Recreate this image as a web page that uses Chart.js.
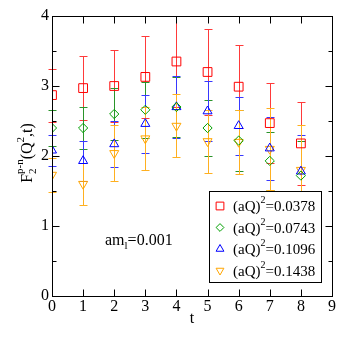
<!DOCTYPE html>
<html><head><meta charset="utf-8">
<script src="https://cdn.jsdelivr.net/npm/chart.js@4.4.1/dist/chart.umd.min.js"></script>
<style>html,body{margin:0;padding:0;background:#fff}#wrap{width:349px;height:349px}</style>
</head><body><div id="wrap"><canvas id="c" width="349" height="349"></canvas></div>
<script>
const tValues = [0,1,2,3,4,5,6,7,8];
const legendLabels = ['0.0378','0.0743','0.1096','0.1438'];
const redVals    = [2.87, 2.97, 3.00, 3.13, 3.35, 3.20, 2.99, 2.47, 2.18];
const redErr     = [0.38, 0.46, 0.51, 0.58, 0.65, 0.61, 0.59, 0.57, 0.59];
const greenVals  = [2.40, 2.40, 2.60, 2.66, 2.70, 2.40, 2.22, 1.93, 1.72];
const greenErr   = [0.26, 0.30, 0.37, 0.40, 0.43, 0.40, 0.43, 0.41, 0.50];
const blueVals   = [2.08, 1.93, 2.17, 2.46, 2.70, 2.64, 2.43, 2.11, 1.78];
const blueErr    = [0.22, 0.28, 0.33, 0.41, 0.44, 0.43, 0.42, 0.45, 0.52];
const orangeVals = [1.73, 1.60, 2.04, 2.25, 2.43, 2.21, 2.20, 2.10, 1.80];
const orangeErr  = [0.24, 0.30, 0.40, 0.45, 0.45, 0.45, 0.46, 0.59, 0.64];
const xTicks = [0,1,2,3,4,5,6,7,8,9];
const yTicks = [0,1,2,3,4];
const yMinor = [0.5,1.5,2.5,3.5];

const SERIF = '"Liberation Serif","DejaVu Serif",serif';
const series = [
  {vals: redVals, err: redErr, color:'#ff0000', ecol:'#ff3a3a', style:'rect', r:6.2, rot:0},
  {vals: greenVals, err: greenErr, color:'#00a000', ecol:'#2a942a', style:'rectRot', r:4.6, rot:0},
  {vals: blueVals, err: blueErr, color:'#0000ff', ecol:'#3838ff', style:'triangle', r:5.2, rot:0},
  {vals: orangeVals, err: orangeErr, color:'#ffa500', ecol:'#ffb020', style:'triangle', r:5.2, rot:180}
];

const datasets = series.map((s,i)=>({
  label: legendLabels[i],
  data: tValues.map((t,j)=>({x:t, y:s.vals[j]})),
  showLine:false,
  pointStyle:s.style,
  pointRotation:s.rot,
  pointRadius:s.r,
  pointBorderColor:s.color,
  pointBackgroundColor:'rgba(0,0,0,0)',
  pointBorderWidth:1,
  borderColor:s.color,
  backgroundColor:'rgba(0,0,0,0)'
}));

const errPlugin = {
  id:'errbars',
  beforeDatasetsDraw(chart){
    const ctx = chart.ctx, xs = chart.scales.x, ys = chart.scales.y;
    ctx.save();
    ctx.lineWidth = 1;
    series.forEach(s=>{
      ctx.strokeStyle = s.ecol;
      tValues.forEach((t,j)=>{
        const x = Math.round(xs.getPixelForValue(t))+0.5;
        const y1 = Math.round(ys.getPixelForValue(s.vals[j]+s.err[j]))+0.5;
        const y2 = Math.round(ys.getPixelForValue(s.vals[j]-s.err[j]))+0.5;
        ctx.beginPath();
        ctx.moveTo(x,y1); ctx.lineTo(x,y2);
        ctx.moveTo(x-4,y1); ctx.lineTo(x+4,y1);
        ctx.moveTo(x-4,y2); ctx.lineTo(x+4,y2);
        ctx.stroke();
      });
    });
    ctx.restore();
  },
  afterDraw(chart){
    const ctx = chart.ctx, xs = chart.scales.x, ys = chart.scales.y, a = chart.chartArea;
    ctx.save();
    ctx.strokeStyle = '#000'; ctx.lineWidth = 1;
    const L = Math.round(a.left)+0.5, R = Math.round(a.right)+0.5, T = Math.round(a.top)+0.5, B = Math.round(a.bottom)+0.5;
    ctx.strokeRect(L, T, R-L, B-T);
    ctx.beginPath();
    xTicks.forEach(v=>{
      const x = Math.round(xs.getPixelForValue(v))+0.5;
      ctx.moveTo(x,B); ctx.lineTo(x,B-7);
      ctx.moveTo(x,T); ctx.lineTo(x,T+7);
    });
    yTicks.forEach(v=>{
      const y = Math.round(ys.getPixelForValue(v))+0.5;
      ctx.moveTo(L,y); ctx.lineTo(L+7,y);
      ctx.moveTo(R,y); ctx.lineTo(R-7,y);
    });
    yMinor.forEach(v=>{
      const y = Math.round(ys.getPixelForValue(v))+0.5;
      ctx.moveTo(L,y); ctx.lineTo(L+4,y);
      ctx.moveTo(R,y); ctx.lineTo(R-4,y);
    });
    ctx.stroke();

    ctx.fillStyle = '#000';
    ctx.textBaseline = 'alphabetic';
    ctx.textAlign = 'left';
    let x0 = 105, yb = 245;
    ctx.font = '16px '+SERIF;
    ctx.fillText('am', x0, yb); x0 += ctx.measureText('am').width;
    ctx.font = '11px '+SERIF;
    ctx.fillText('l', x0, yb+4); x0 += ctx.measureText('l').width;
    ctx.font = '16px '+SERIF;
    ctx.fillText('=0.001', x0, yb);

    const lx = 209.5, ly = 191.5, lw = 112, lh = 91;
    ctx.fillStyle = '#fff';
    ctx.fillRect(lx, ly, lw, lh);
    ctx.strokeStyle = '#000';
    ctx.lineWidth = 1;
    ctx.strokeRect(lx, ly, lw, lh);
    const rows = [206, 227.5, 249, 270.5];
    series.forEach((s,i)=>{
      ctx.strokeStyle = s.color; ctx.lineWidth = 1;
      ctx.fillStyle = 'rgba(0,0,0,0)';
      Chart.helpers.drawPoint(ctx, {pointStyle:s.style, rotation:s.rot, radius:s.r-0.7, borderWidth:1}, 220, rows[i]);
      ctx.fillStyle = '#000';
      let tx = 233; const by = rows[i]+5;
      ctx.font = '15px '+SERIF;
      ctx.fillText('(aQ)', tx, by); tx += ctx.measureText('(aQ)').width;
      ctx.font = '10px '+SERIF;
      ctx.fillText('2', tx, by-8); tx += ctx.measureText('2').width;
      ctx.font = '15px '+SERIF;
      ctx.fillText('='+legendLabels[i], tx, by);
    });

    ctx.save();
    ctx.translate(32, 153);
    ctx.rotate(-Math.PI/2);
    ctx.fillStyle = '#000';
    const parts = [
      {t:'F', f:16, dy:0, adv:true},
      {t:'2', f:11, dy:4, adv:false},
      {t:'p-n', f:11, dy:-9, adv:true},
      {t:'(Q', f:16, dy:0, adv:true},
      {t:'2', f:11, dy:-8, adv:true},
      {t:',t)', f:16, dy:0, adv:true}
    ];
    let total = 0;
    parts.forEach(p=>{ctx.font = p.f+'px '+SERIF; p.w = ctx.measureText(p.t).width; if(p.adv) total += p.w;});
    let px = -total/2;
    parts.forEach(p=>{
      ctx.font = p.f+'px '+SERIF;
      ctx.fillText(p.t, px, p.dy);
      if(p.adv) px += p.w;
    });
    ctx.restore();

    ctx.font = '16px '+SERIF;
    ctx.textAlign = 'center';
    ctx.fillText('t', xs.getPixelForValue(4.5), 323);
    ctx.restore();
  }
};

new Chart(document.getElementById('c'), {
  type:'scatter',
  data:{datasets},
  options:{
    responsive:false,
    animation:false,
    devicePixelRatio:1,
    layout:{padding:{left:0, top:16, right:17, bottom:0}},
    plugins:{legend:{display:false}, tooltip:{enabled:false}},
    scales:{
      x:{
        type:'linear', min:0, max:9,
        afterFit(s){ s.height = 53; },
        afterBuildTicks(s){ s.ticks = xTicks.map(v=>({value:v})); },
        grid:{display:false, drawTicks:false},
        border:{display:false},
        ticks:{color:'#000', font:{family:SERIF, size:16}, padding:1, maxRotation:0, autoSkip:false}
      },
      y:{
        type:'linear', min:0, max:4,
        afterFit(s){ s.width = 52; },
        afterBuildTicks(s){ s.ticks = yTicks.map(v=>({value:v})); },
        grid:{display:false, drawTicks:false},
        border:{display:false},
        ticks:{color:'#000', font:{family:SERIF, size:16}, padding:3, autoSkip:false}
      }
    }
  },
  plugins:[errPlugin]
});
</script>
</body></html>
